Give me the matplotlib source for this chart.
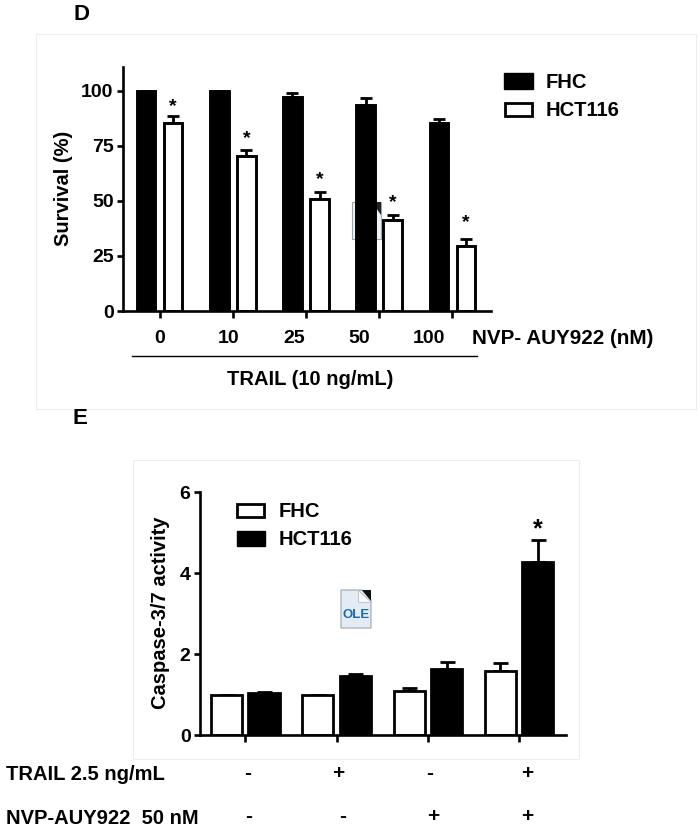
import matplotlib
matplotlib.use("Agg")
import matplotlib.pyplot as plt
from matplotlib.patches import Rectangle, Polygon

plt.rcParams['font.family'] = ['Liberation Sans', 'DejaVu Sans']
plt.rcParams['font.weight'] = 'bold'

# Panel D data
d_doses = ['0', '10', '25', '50', '100']
d_fhc = [100, 100, 97, 93.5, 85.5]
d_fhc_err = [0, 0, 2, 3, 1.6]
d_hct = [85.5, 70.2, 51, 41.2, 29.4]
d_hct_err = [2.9, 3, 3, 2.2, 3.2]
d_star = [93.5, 79, 60.4, 49.9, 41]
d_yticks = [0, 25, 50, 75, 100]

# Panel E data
e_fhc = [1.0, 1.0, 1.1, 1.58]
e_fhc_err = [0, 0, 0.06, 0.21]
e_hct = [1.04, 1.45, 1.62, 4.28]
e_hct_err = [0.03, 0.06, 0.19, 0.53]
e_star = 5.15
e_yticks = [0, 2, 4, 6]
e_trail = ['-', '+', '-', '+']
e_nvp = ['-', '-', '+', '+']

W, H = 700, 831
FS = 14.5
fig = plt.figure(figsize=(W / 100, H / 100), dpi=100, facecolor='white')


def fx(x):
    return x / W


def fy(y):
    return 1 - y / H


def add_axes_px(l, r, top, bottom):
    ax = fig.add_axes([fx(l), fy(bottom), (r - l) / W, (bottom - top) / H])
    ax.patch.set_visible(False)
    for s in ['top', 'right']:
        ax.spines[s].set_visible(False)
    for s in ['left', 'bottom']:
        ax.spines[s].set_linewidth(1.9)
    return ax


def txt(x, y, s, size=FS, ha='center', va='center', **kw):
    # horizontal text sits about 1.5 px high when centred on its line box
    dy = 0 if kw.get('rotation') else 1.5
    return fig.text(fx(x), fy(y + dy), s, fontsize=size, ha=ha, va=va, fontweight='bold', **kw)


def rect(l, t, r, b, **kw):
    p = Rectangle((fx(l), fy(b)), (r - l) / W, (b - t) / H, transform=fig.transFigure, **kw)
    fig.add_artist(p)
    return p


def poly(points, **kw):
    p = Polygon([(fx(x), fy(y)) for x, y in points], closed=True, transform=fig.transFigure, **kw)
    fig.add_artist(p)
    return p


# Panel frames
for box in [(36, 34, 696, 409), (133, 460, 579, 759)]:
    rect(*box, facecolor='white', edgecolor='#eeeeee', linewidth=0.8, zorder=-5)

# Ghost icon behind panel D's bars
rect(352, 202, 381, 239, facecolor='#f0f3f6', edgecolor='#9aa5ad', linewidth=0.8, zorder=-4)
poly([(372, 202), (381, 202), (381, 215)], facecolor='#222222', edgecolor='none', zorder=-3)

# Panel D
axd = add_axes_px(123, 491, 67, 311)
axd.set_xlim(-0.5, 4.527)
axd.set_ylim(0, 110.7)
off_d = 0.185
w_d = 0.253
xs = list(range(len(d_doses)))
x1 = [i - off_d for i in xs]
x2 = [i + off_d for i in xs]
axd.errorbar(x1, d_fhc, yerr=[[0] * 5, d_fhc_err], fmt='none', ecolor='black', elinewidth=2,
             capsize=4, capthick=2, zorder=1)
axd.errorbar(x2, d_hct, yerr=[[0] * 5, d_hct_err], fmt='none', ecolor='black', elinewidth=2,
             capsize=4, capthick=2, zorder=1)
axd.bar(x1, d_fhc, width=w_d, color='black', edgecolor='black', linewidth=2.1, zorder=2, label='FHC')
axd.bar(x2, d_hct, width=w_d, color='white', edgecolor='black', linewidth=2.1, zorder=2, label='HCT116')
axd.set_xticks(xs)
axd.set_xticklabels([])
axd.tick_params(axis='x', length=5, width=1.9)
axd.set_yticks(d_yticks)
axd.tick_params(axis='y', length=4.3, width=1.9, labelsize=14, pad=2.5)
for t in axd.get_yticklabels():
    t.set_fontweight('bold')
for x, y in zip(x2, d_star):
    axd.text(x, y, '*', fontsize=14, ha='center', va='center_baseline', fontweight='bold')

txt(63.5, 188, 'Survival (%)', rotation=90)
for cx, lab in zip([159.6, 229, 294, 358.8, 429], d_doses):
    txt(cx, 337, lab, size=14)
txt(472, 337, 'NVP- AUY922 (nM)', size=14.9, ha='left')
fig.add_artist(plt.Line2D([fx(131.7), fx(477)], [fy(355.7), fy(355.7)], color='black', linewidth=1.0,
                          transform=fig.transFigure))
txt(310, 378, 'TRAIL (10 ng/mL)')
txt(81.5, 13, 'D', size=16)

rect(504, 73, 533, 89, facecolor='black', edgecolor='black', linewidth=1)
rect(504.8, 102.8, 532.2, 116.2, facecolor='white', edgecolor='black', linewidth=2)
txt(546, 80.5, 'FHC', ha='left')
txt(546, 108.5, 'HCT116', ha='left')

# Panel E
axe = add_axes_px(200, 566, 492.3, 735)
axe.set_xlim((200 - 245.3) / 91.3, (566 - 245.3) / 91.3)
axe.set_ylim(0, 6)
off_e = 0.205
w_e = 0.34
xe = list(range(len(e_fhc)))
xa = [i - off_e for i in xe]
xb = [i + off_e for i in xe]
axe.errorbar(xa, e_fhc, yerr=[[0] * 4, e_fhc_err], fmt='none', ecolor='black', elinewidth=2,
             capsize=5.4, capthick=2, zorder=1)
axe.errorbar(xb, e_hct, yerr=[[0] * 4, e_hct_err], fmt='none', ecolor='black', elinewidth=2,
             capsize=5.4, capthick=2, zorder=1)
axe.bar(xa, e_fhc, width=w_e, color='white', edgecolor='black', linewidth=2.0, zorder=2, label='FHC')
axe.bar(xb, e_hct, width=w_e, color='black', edgecolor='black', linewidth=2.0, zorder=2, label='HCT116')
axe.set_xticks(xe)
axe.set_xticklabels([])
axe.tick_params(axis='x', length=5.3, width=1.9)
axe.set_yticks(e_yticks)
axe.tick_params(axis='y', length=4.3, width=1.9, labelsize=14, pad=2.5)
for t in axe.get_yticklabels():
    t.set_fontweight('bold')
axe.text(xb[-1], e_star, '*', fontsize=18, ha='center', va='center_baseline', fontweight='bold')

txt(160.7, 613, 'Caspase-3/7 activity', rotation=90)
txt(80, 417, 'E', size=16)

rect(237.3, 503.8, 264.2, 517.2, facecolor='white', edgecolor='black', linewidth=2)
rect(236.5, 531, 265, 546, facecolor='black', edgecolor='black', linewidth=1)
txt(278.6, 510, 'FHC', ha='left')
txt(278.6, 538, 'HCT116', ha='left')

txt(6, 773, 'TRAIL 2.5 ng/mL', ha='left')
txt(6, 817, 'NVP-AUY922  50 nM', ha='left')
for cx, s in zip([248, 338.7, 430, 527], e_trail):
    txt(cx, 772, s, size=15)
for cx, s in zip([248.8, 343, 433.6, 527.4], e_nvp):
    txt(cx, 815, s, size=15)

# OLE icon
poly([(341, 590), (362, 590), (371, 600), (371, 628), (341, 628)],
     facecolor='#e3ecf4', edgecolor='#9aa5ad', linewidth=0.8)
poly([(362, 590), (371, 590), (371, 601)], facecolor='#111111', edgecolor='none')
poly([(358, 590), (358, 602), (371, 602)], facecolor='#f7f9fb', edgecolor='#b5bec6', linewidth=0.6)
txt(356, 614, 'OLE', size=9.5, color='#1f6aa5')

fig.savefig('out.png', dpi=100)
